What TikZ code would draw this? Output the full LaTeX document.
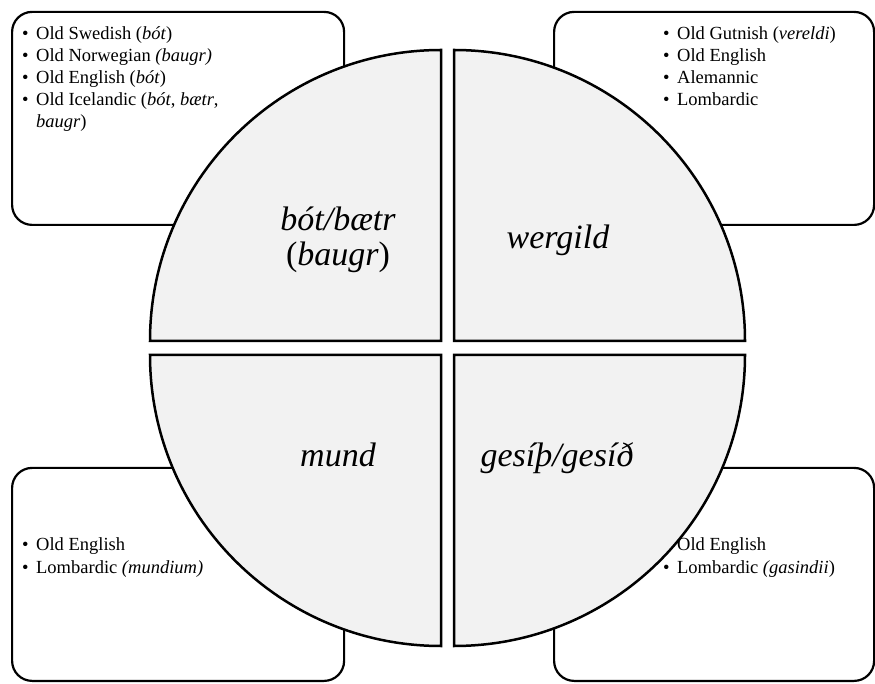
\documentclass[tikz,border=0pt]{standalone}
\usepackage{fontspec}
\setmainfont{Liberation Serif}
\definecolor{quadgray}{RGB}{242,242,242}
\newcommand{\bul}{\makebox[14pt][l]{\textbullet}}
\begin{document}
\begin{tikzpicture}[x=1pt,y=1pt,
  box/.style={draw, line width=2.2pt, rounded corners=20pt, inner sep=0pt, anchor=south west, minimum width=332pt, minimum height=213pt},
  quad/.style={draw, line width=2.5pt, fill=quadgray, line join=miter},
  item/.style={anchor=base west, inner sep=0pt, font=\fontsize{18.5}{22}\selectfont},
  big/.style={anchor=base, inner sep=0pt, font=\fontsize{34}{40}\selectfont\itshape}]
\useasboundingbox (0,0) rectangle (875,683);
% boxes
\node[box] (boxTL) at (11,457) {};
\node[box, minimum width=320pt] (boxTR) at (553,457) {};
\node[box] (boxBL) at (11,1) {};
\node[box, minimum width=320pt] (boxBR) at (553,1) {};
% top-left list
\node[item] (tl1) at (22,643) {\bul Old Swedish (\textit{bót})};
\node[item] (tl2) at (22,621) {\bul Old Norwegian \textit{(baugr)}};
\node[item] (tl3) at (22,599) {\bul Old English (\textit{bót})};
\node[item] (tl4) at (22,577) {\bul Old Icelandic (\textit{bót}, \textit{bætr},};
\node[item] (tl5) at (36,555) {\textit{baugr})};
% top-right list
\node[item] (tr1) at (663,643) {\bul Old Gutnish (\textit{vereldi})};
\node[item] (tr2) at (663,621) {\bul Old English};
\node[item] (tr3) at (663,599) {\bul Alemannic};
\node[item] (tr4) at (663,577) {\bul Lombardic};
% bottom-left list
\node[item] (bl1) at (22,133) {\bul Old English};
\node[item] (bl2) at (22,110) {\bul Lombardic \textit{(mundium)}};
% bottom-right list
\node[item] (br1) at (663,133) {\bul Old English};
\node[item] (br2) at (663,110) {\bul Lombardic \textit{(gasindii})};
% quadrants
\path[quad] (441,342) -- (150,342) arc[start angle=180, end angle=90, radius=291] -- cycle;
\path[quad] (454,342) -- (454,633) arc[start angle=90, end angle=0, radius=291] -- cycle;
\path[quad] (441,328) -- (150,328) arc[start angle=180, end angle=270, radius=291] -- cycle;
\path[quad] (454,328) -- (745,328) arc[start angle=0, end angle=-90, radius=291] -- cycle;
% quadrant labels
\node[big] (q1a) at (338,452) {bót/bætr};
\node[big] (q1b) at (338,417) {\upshape(\textit{baugr})};
\node[big] (q2) at (558,434) {wergild};
\node[big] (q3) at (338,216) {mund};
\node[big] (q4) at (557,216) {gesíþ/gesíð};
\end{tikzpicture}
\end{document}
